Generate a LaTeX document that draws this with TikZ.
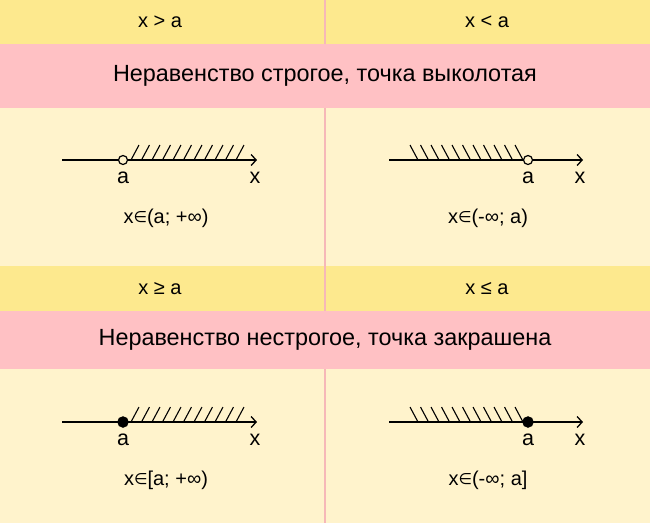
\documentclass[tikz,border=0pt]{standalone}
\usepackage{fontspec}
\setmainfont{Liberation Sans}
\newfontfamily\ineqsym{DejaVu Sans}
\usetikzlibrary{arrows.meta}
\definecolor{ineqhead}{RGB}{253,233,142}
\definecolor{ineqband}{RGB}{255,193,196}
\definecolor{ineqsoft}{RGB}{255,243,204}
\definecolor{ineqrule}{RGB}{246,184,184}
\tikzset{
	axis/.style={draw=black, line width=1.3pt, -{Straight Barb[length=5pt, width=11pt, line width=1.3pt]}},
	hatch/.style={draw=black, line width=1.1pt},
	holept/.style={circle, draw=black, fill=ineqsoft, line width=1.2pt, inner sep=0pt, minimum size=9pt},
	fullpt/.style={circle, draw=black, fill=black, inner sep=0pt, minimum size=11pt},
	headlabel/.style={font=\fontsize{20}{24}\selectfont, text=black},
	bandlabel/.style={font=\fontsize{23.4}{28}\selectfont, text=black},
	marklabel/.style={font=\fontsize{21.5}{26}\selectfont, text=black},
	setlabel/.style={font=\fontsize{20}{24}\selectfont, text=black}
}
\newcommand{\elt}{{\ineqsym\fontsize{15.5}{18}\selectfont\raisebox{0.5pt}{∈}}}

\begin{document}
\begin{tikzpicture}[x=1pt,y=1pt]
		
		\fill[ineqhead] (0,0) rectangle (650,-44);
		\fill[ineqband] (0,-44) rectangle (650,-108);
		\fill[ineqsoft] (0,-108) rectangle (650,-266);
		\fill[ineqhead] (0,-266) rectangle (650,-311);
		\fill[ineqband] (0,-311) rectangle (650,-369);
		\fill[ineqsoft] (0,-369) rectangle (650,-523);
		\useasboundingbox (0,0) rectangle (650,-523);
		
		\draw[ineqrule, line width=2pt] (325,0) -- (325,-44);
		\draw[ineqrule, line width=2pt] (325,-108) -- (325,-311);
		\draw[ineqrule, line width=2pt] (325,-369) -- (325,-523);
		
		\node[headlabel] (headgt) at (160,-22) {x > a};
		\node[headlabel] (headlt) at (487,-22) {x < a};
		\node[bandlabel] (strict) at (325,-76) {Неравенство строгое, точка выколотая};
		\node[headlabel] (headge) at (160,-289) {x ≥ a};
		\node[headlabel] (headle) at (487,-289) {x ≤ a};
		\node[bandlabel] (loose) at (325,-340) {Неравенство нестрогое, точка закрашена};
		
		\foreach \row/\yy/\dot in {top/-160/holept, bot/-422/fullpt} {
			% right ray
			\coordinate (R\row start) at (62,\yy);
			\coordinate (R\row end) at (257,\yy);
			\foreach \i in {0,...,10}
			\draw[hatch] (131+\i*10.5,\yy) -- ++(8,15);
			\draw[axis] (R\row start) -- (R\row end);
			\node[\dot] (R\row pt) at (123,\yy) {};
			\node[marklabel] (R\row a) at (123,\yy-18) {a};
			\node[marklabel] (R\row x) at (255,\yy-18) {x};
			% left ray
			\coordinate (L\row start) at (389,\yy);
			\coordinate (L\row end) at (583,\yy);
			\foreach \i in {0,...,10}
			\draw[hatch] (410+\i*10.5,\yy+15) -- ++(8,-15);
			\draw[axis] (L\row start) -- (L\row end);
			\node[\dot] (L\row pt) at (528,\yy) {};
			\node[marklabel] (L\row a) at (528,\yy-18) {a};
			\node[marklabel] (L\row x) at (580,\yy-18) {x};
		}
		
		\node[setlabel] (settop1) at (166,-218) {x\elt(a; +∞)};
		\node[setlabel] (settop2) at (488,-218) {x\elt(-∞; a)};
		\node[setlabel] (setbot1) at (166,-480) {x\elt[a; +∞)};
		\node[setlabel] (setbot2) at (488,-480) {x\elt(-∞; a]};
		
	\end{tikzpicture}
\end{document}
